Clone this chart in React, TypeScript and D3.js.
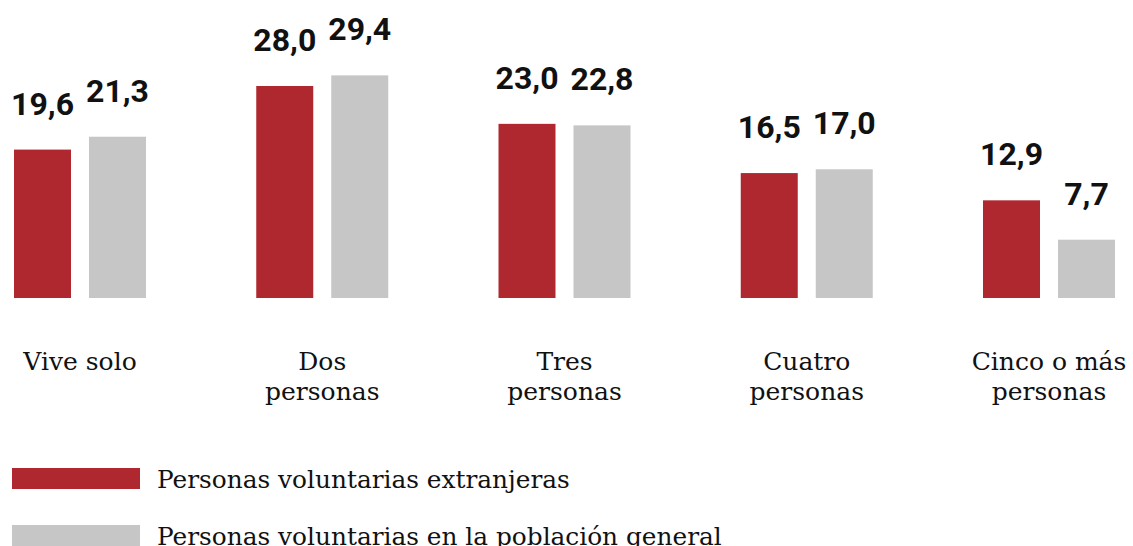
import React from "react";
import * as d3 from "d3";

const categories: string[][] = [
  ["Vive solo"],
  ["Dos", "personas"],
  ["Tres", "personas"],
  ["Cuatro", "personas"],
  ["Cinco o más", "personas"],
];
const extranjeras = [19.6, 28.0, 23.0, 16.5, 12.9];
const general = [21.3, 29.4, 22.8, 17.0, 7.7];
const seriesNames = [
  "Personas voluntarias extranjeras",
  "Personas voluntarias en la población general",
];
const colors = ["#B0282F", "#C6C6C6"];

const W = 1133;
const H = 546;

export default function App() {
  const keys = categories.map((c) => c.join(" "));
  const x = d3.scalePoint<string>().domain(keys).range([80, 1049]);
  const y = d3.scaleLinear().domain([0, 28]).range([298, 86]);
  const sub = d3.scaleBand<number>().domain([0, 1]).range([-66, 66]).paddingInner(0.24);
  const fmt = (v: number) => d3.format(".1f")(v).replace(".", ",");
  const series = [extranjeras, general];
  const serif = "'DejaVu Serif', serif";

  return (
    <svg width={W} height={H} style={{ position: "absolute", left: 0, top: 0, background: "#fff" }}>
      {keys.map((k, i) => (
        <g key={k} transform={`translate(${x(k)},0)`}>
          {series.map((s, j) => (
            <g key={j}>
              <rect
                x={sub(j)!}
                width={sub.bandwidth()}
                y={y(s[i])}
                height={y(0) - y(s[i])}
                fill={colors[j]}
              />
              <text
                x={sub(j)! + sub.bandwidth() / 2}
                y={y(s[i]) - 35}
                textAnchor="middle"
                fontFamily="Roboto, sans-serif"
                fontWeight={700}
                fontSize={32}
                fill="#111"
              >
                {fmt(s[i])}
              </text>
            </g>
          ))}
          {categories[i].map((line, li) => (
            <text
              key={li}
              x={0}
              y={370 + li * 30}
              textAnchor="middle"
              fontFamily={serif}
              fontSize={25}
              fill="#111"
            >
              {line}
            </text>
          ))}
        </g>
      ))}
      {seriesNames.map((n, j) => (
        <g key={n} transform={`translate(0,${468 + j * 57})`}>
          <rect x={12} y={0} width={128} height={21} fill={colors[j]} />
          <text x={157} y={20} fontFamily={serif} fontSize={24.8} fill="#111">
            {n}
          </text>
        </g>
      ))}
    </svg>
  );
}
